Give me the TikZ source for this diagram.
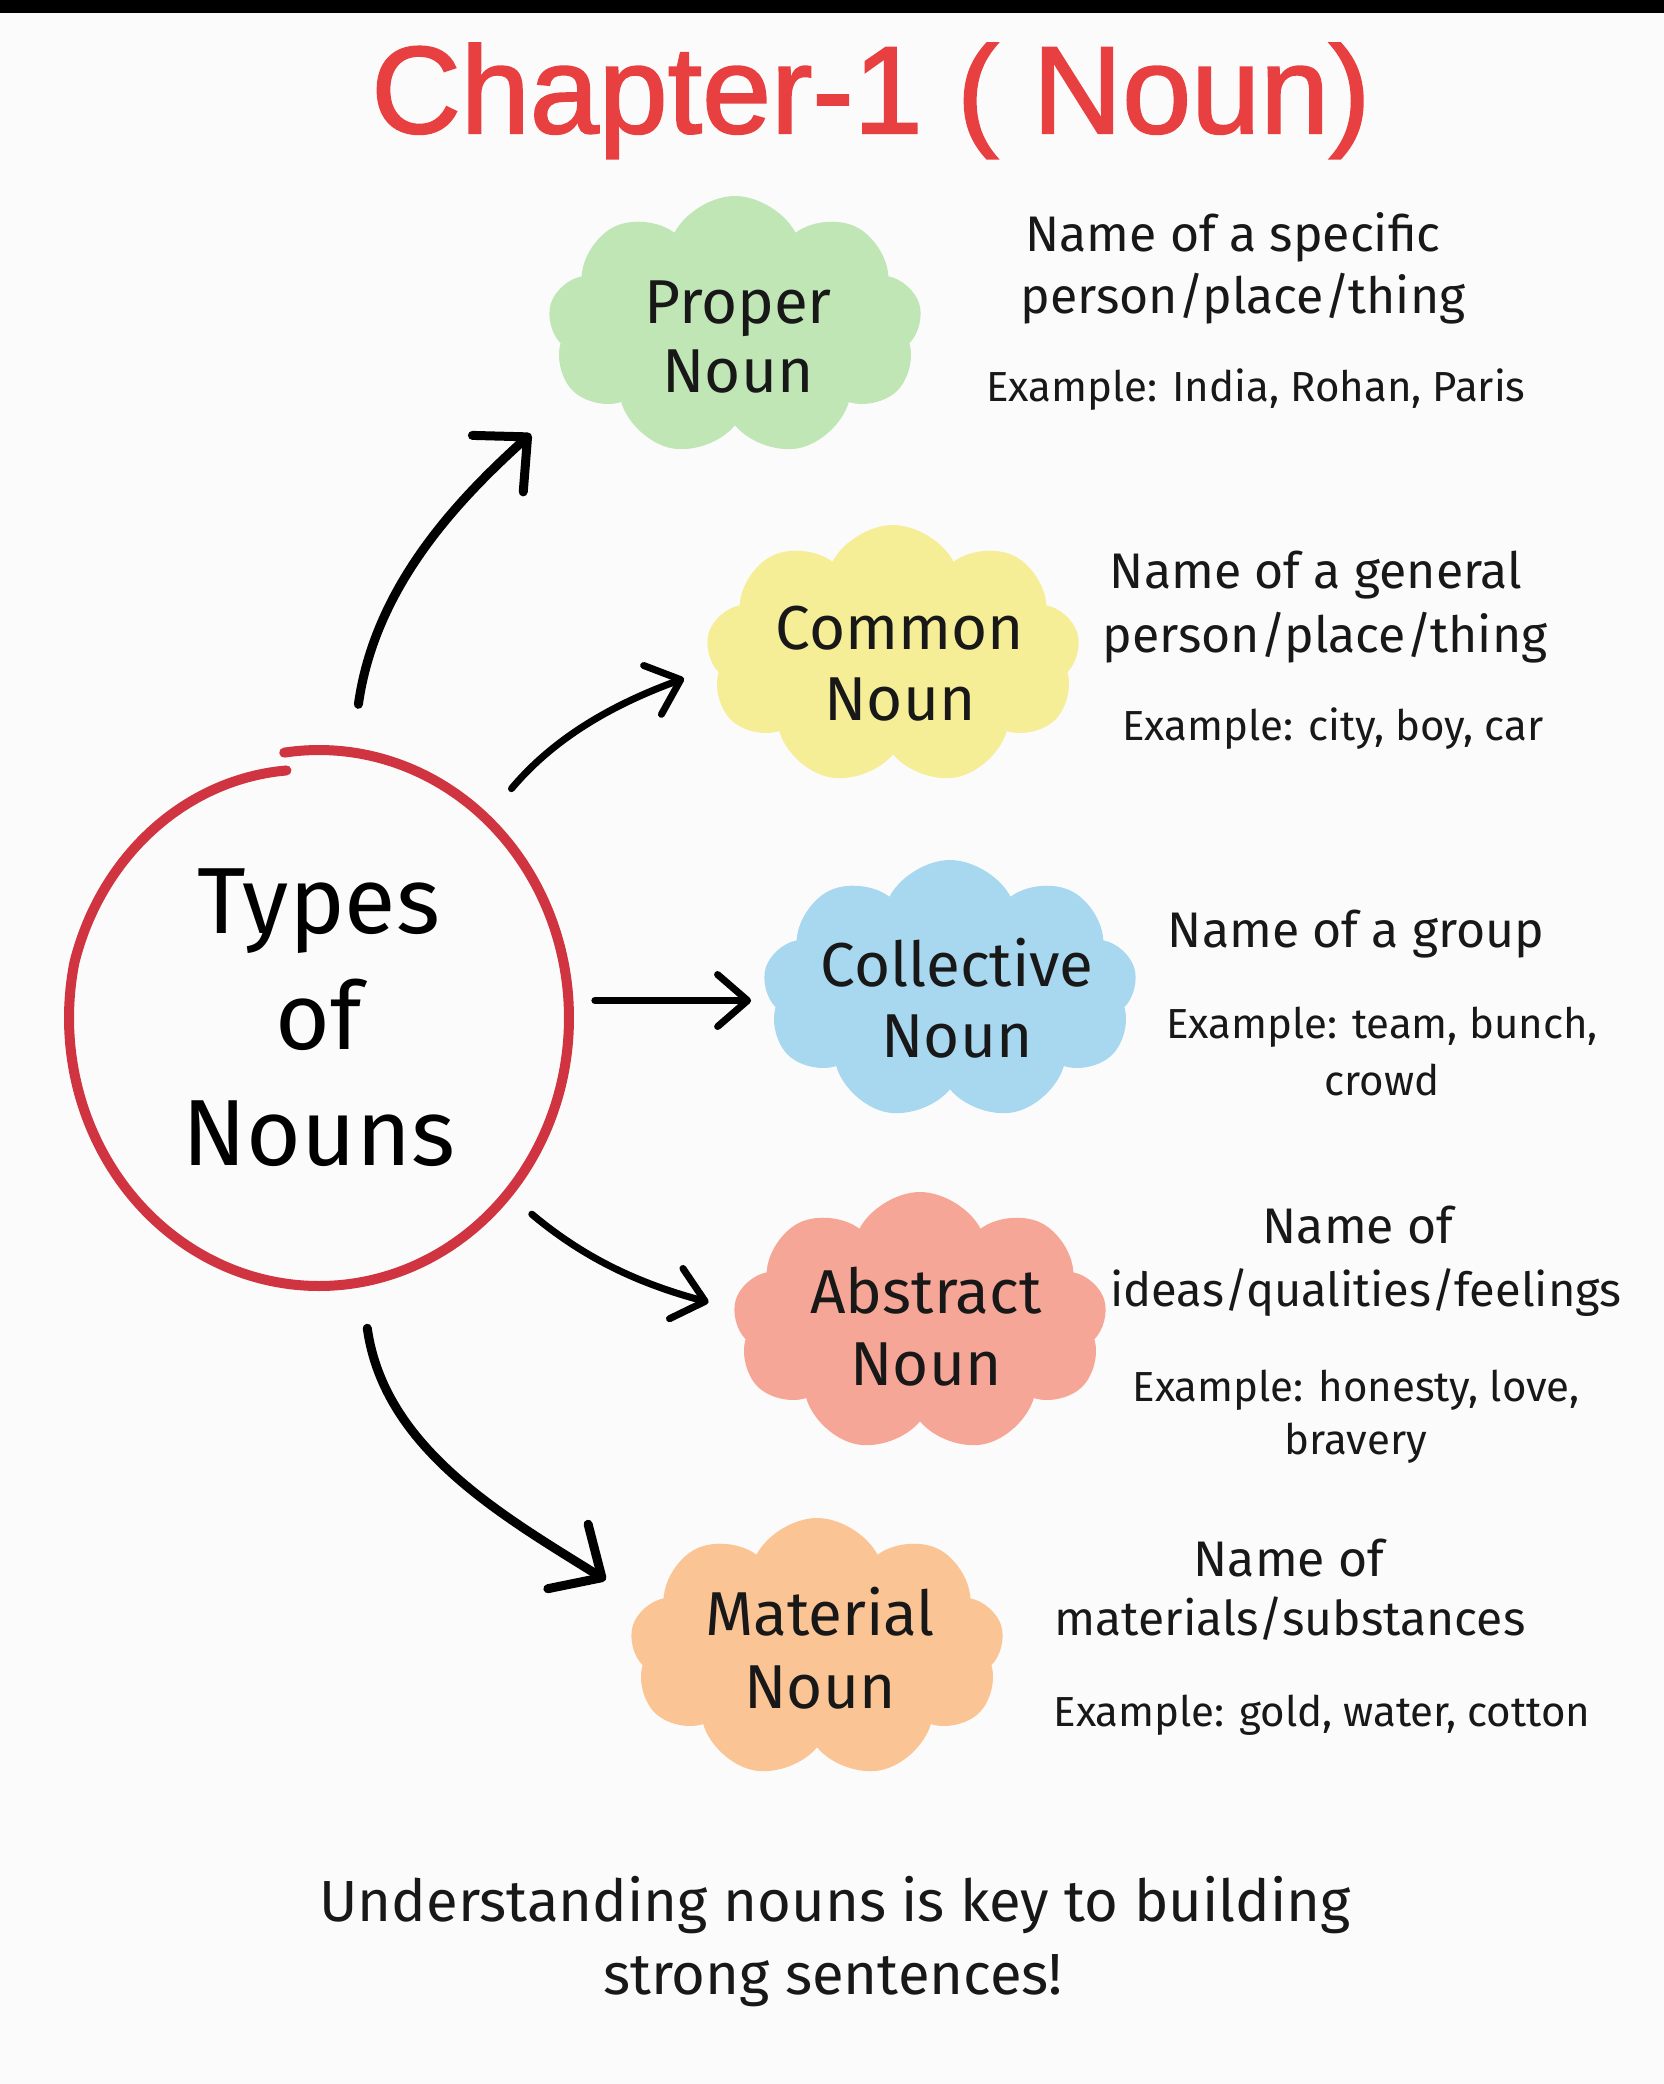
\documentclass[tikz,border=0pt]{standalone}
\usepackage{fontspec}
\setmainfont{Fira Sans}
\newfontfamily\titlefont[BoldFont=Liberation Sans, BoldFeatures={FakeBold=1.6}]{Liberation Sans}
\usetikzlibrary{shapes.symbols,shapes.geometric,arrows.meta}
\definecolor{titlered}{RGB}{232,64,64}
\definecolor{ringred}{RGB}{208,52,64}
\definecolor{cgreen}{RGB}{192,230,182}
\definecolor{cyellow}{RGB}{246,238,150}
\definecolor{cblue}{RGB}{168,216,240}
\definecolor{csalmon}{RGB}{246,166,150}
\definecolor{corange}{RGB}{250,196,148}
\definecolor{ink}{RGB}{24,24,24}
\definecolor{bgc}{RGB}{251,251,251}
\begin{document}
\begin{tikzpicture}[x=0.5pt,y=0.5pt,
  cloudbox/.style={cloud, cloud puffs=9, cloud puff arc=125, aspect=1.45,
    fill=#1, draw=none, inner sep=0pt, minimum width=187pt, minimum height=130pt},
  cloudtxt/.style={font=\fontsize{31}{31}\selectfont, text=ink, anchor=base, inner sep=0pt},
  desctxt/.style={font=\fontsize{25}{25}\selectfont, text=ink, anchor=base, inner sep=0pt},
  extxt/.style={font=\fontsize{21}{21}\selectfont, text=ink, anchor=base, inner sep=0pt},
  foottxt/.style={font=\fontsize{29}{29}\selectfont, text=ink, anchor=base, inner sep=0pt},
  arr/.style={line width=3.5pt, line cap=round, draw=black,
    -{Straight Barb[round, length=15pt, width=26pt]}},
  bigarr/.style={line width=4.5pt, line cap=round, draw=black,
    -{Straight Barb[round, length=20pt, width=38pt]}}
]
% canvas
\useasboundingbox (0,0) rectangle (1664,-2084);
\fill[bgc] (0,0) rectangle (1664,-2084);
\fill[black] (0,0) rectangle (1664,-13);

% title
\node[font=\titlefont\bfseries\fontsize{62}{62}\selectfont, text=titlered, anchor=base, inner sep=0pt]
  (title) at (871,-133) {Chapter-1 ( Noun)};

% central hub
\node[ellipse, minimum width=250pt, minimum height=266pt, inner sep=0pt,
  align=center, font=\fontsize{47}{58}\selectfont, text=black]
  (types) at (319,-1018) {Types\\of\\Nouns};
\draw[ringred, line width=5pt, line cap=round]
  plot[domain=98:-262, samples=150, smooth]
  ({319+(250-16*max(0,-(\x+192)/70))*cos(\x)}, {-1018+(268-18*max(0,-(\x+192)/70))*sin(\x)});

% clouds
\node[cloudbox=cgreen] (proper) at (735,-326) {};
\node[cloudbox=cyellow] (common) at (893,-655) {};
\node[cloudbox=cblue] (collective) at (950,-990) {};
\node[cloudbox=csalmon] (abstract) at (920,-1322) {};
\node[cloudbox=corange] (material) at (817,-1648) {};

% cloud labels
\node[cloudtxt] (proper1) at (738,-323) {Proper};
\node[cloudtxt] (proper2) at (738,-392) {Noun};
\node[cloudtxt] (common1) at (900,-649) {Common};
\node[cloudtxt] (common2) at (900,-720) {Noun};
\node[cloudtxt] (collective1) at (957,-986) {Collective};
\node[cloudtxt] (collective2) at (957,-1057) {Noun};
\node[cloudtxt] (abstract1) at (926,-1313) {Abstract};
\node[cloudtxt] (abstract2) at (926,-1385) {Noun};
\node[cloudtxt] (material1) at (820,-1635) {Material};
\node[cloudtxt] (material2) at (820,-1708) {Noun};

% descriptions
\node[desctxt] (d11) at (1233,-251) {Name of a specific};
\node[desctxt] (d12) at (1243,-313) {person/place/thing};
\node[extxt]   (d13) at (1256,-401) {Example: India, Rohan, Paris};

\node[desctxt] (d21) at (1316,-588) {Name of a general};
\node[desctxt] (d22) at (1325,-652) {person/place/thing};
\node[extxt]   (d23) at (1333,-740) {Example: city, boy, car};

\node[desctxt] (d31) at (1356,-947) {Name of a group};
\node[extxt]   (d32) at (1382,-1038) {Example: team, bunch,};
\node[extxt]   (d33) at (1382,-1095) {crowd};

\node[desctxt] (d41) at (1358,-1243) {Name of};
\node[desctxt, font=\fontsize{23.5}{23.5}\selectfont] (d42) at (1366,-1306) {ideas/qualities/feelings};
\node[extxt]   (d43) at (1356,-1401) {Example: honesty, love,};
\node[extxt]   (d44) at (1356,-1454) {bravery};

\node[desctxt] (d51) at (1289,-1576) {Name of};
\node[desctxt, font=\fontsize{24}{24}\selectfont] (d52) at (1290,-1635) {materials/substances};
\node[extxt]   (d53) at (1322,-1726) {Example: gold, water, cotton};

% footer
\node[foottxt] (foot1) at (835,-1921) {Understanding nouns is key to building};
\node[foottxt] (foot2) at (833,-1994) {strong sentences!};

% connectors
\draw[bigarr, shorten <=25pt, shorten >=30pt] (types.83) to[out=82, in=222] (proper.203);
\draw[arr, shorten <=20pt, shorten >=16pt] (types.50.7) to[out=50, in=200] (common.184);
\draw[arr, shorten <=13pt, shorten >=7pt] (types.4.5) -- (types.4.5 -| collective.west);
\draw[arr, shorten <=16pt, shorten >=13pt] (types.-43.3) to[out=-40, in=165] (abstract.176.5);
\draw[bigarr, shorten <=24pt, shorten >=24pt] (types.-81) to[out=-82, in=148] (material.166);
\end{tikzpicture}
\end{document}
